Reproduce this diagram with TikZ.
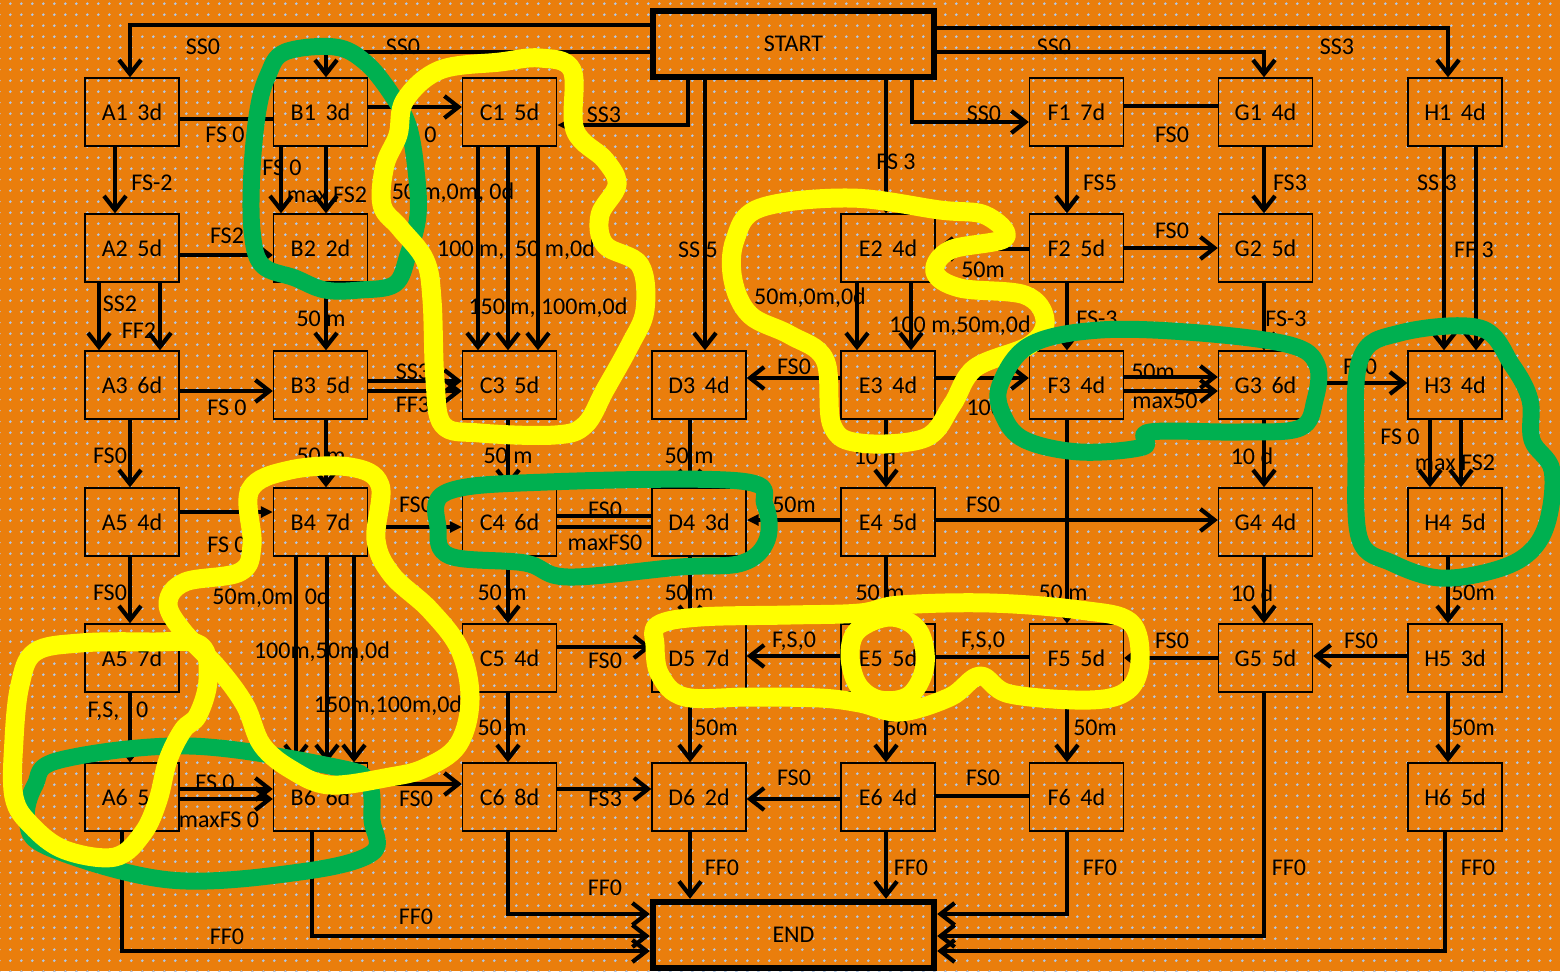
\documentclass[tikz,border=0pt]{standalone}
\usepackage{fontspec}
\setmainfont{Carlito}
\usetikzlibrary{arrows.meta,patterns.meta}
\definecolor{bgorange}{RGB}{234,126,12}
\definecolor{dotblue}{RGB}{176,200,232}
\definecolor{hlyellow}{RGB}{255,255,0}
\definecolor{hlgreen}{RGB}{0,176,80}
\begin{document}
\begin{tikzpicture}[x=0.5pt,y=-0.5pt,font=\fontsize{12}{14}\selectfont,
  box/.style={draw=black,line width=0.7pt,minimum width=47pt,minimum height=34pt,inner sep=0pt},
  bigbox/.style={draw=black,line width=3.2pt,minimum width=140.5pt,minimum height=33pt,inner sep=0pt},
  ln/.style={line width=1.6pt,draw=black},
  arr/.style={ln,-{Straight Barb[length=7pt,width=11pt,line width=2.1pt]}},
  tri/.style={ln,-{Triangle[length=6pt,width=5.5pt]}},
  lab/.style={inner sep=0pt},
  hly/.style={draw=hlyellow,line width=9.5pt,line cap=round,line join=round},
  hlg/.style={draw=hlgreen,line width=8.5pt,line cap=round,line join=round}]
\useasboundingbox (0,0) rectangle (1560,971);
\fill[bgorange] (0,0) rectangle (1560,971);
\fill[pattern={Dots[distance=5.4pt,radius=0.75pt]},pattern color=dotblue] (0,0) rectangle (1560,971);

% START / END
\node[bigbox] (START) at (793.5,44) {START};
\node[bigbox] (END) at (793.5,935) {END};

% boxes
\node[box] (A1) at (132,112) {A1\hspace{0.4em}3d};
\node[box] (A2) at (132,248) {A2\hspace{0.4em}5d};
\node[box] (A3) at (132,385) {A3\hspace{0.4em}6d};
\node[box] (A4) at (132,522) {A5\hspace{0.4em}4d};
\node[box] (A5) at (132,658) {A5\hspace{0.4em}7d};
\node[box] (A6) at (132,797) {A6\hspace{0.4em}5d};
\node[box] (B1) at (320.5,112) {B1\hspace{0.4em}3d};
\node[box] (B2) at (320.5,248) {B2\hspace{0.4em}2d};
\node[box] (B3) at (320.5,385) {B3\hspace{0.4em}5d};
\node[box] (B4) at (320.5,522) {B4\hspace{0.4em}7d};
\node[box] (B6) at (320.5,797) {B6\hspace{0.4em}6d};
\node[box] (C1) at (509.5,112) {C1\hspace{0.4em}5d};
\node[box] (C3) at (509.5,385) {C3\hspace{0.4em}5d};
\node[box] (C4) at (509.5,522) {C4\hspace{0.4em}6d};
\node[box] (C5) at (509.5,658) {C5\hspace{0.4em}4d};
\node[box] (C6) at (509.5,797) {C6\hspace{0.4em}8d};
\node[box] (D3) at (699,385) {D3\hspace{0.4em}4d};
\node[box] (D4) at (699,522) {D4\hspace{0.4em}3d};
\node[box] (D5) at (699,658) {D5\hspace{0.4em}7d};
\node[box] (D6) at (699,797) {D6\hspace{0.4em}2d};
\node[box] (E2) at (888,248) {E2\hspace{0.4em}4d};
\node[box] (E3) at (888,385) {E3\hspace{0.4em}4d};
\node[box] (E4) at (888,522) {E4\hspace{0.4em}5d};
\node[box] (E5) at (888,658) {E5\hspace{0.4em}5d};
\node[box] (E6) at (888,797) {E6\hspace{0.4em}4d};
\node[box] (F1) at (1076.5,112) {F1\hspace{0.4em}7d};
\node[box] (F2) at (1076.5,248) {F2\hspace{0.4em}5d};
\node[box] (F3) at (1076.5,385) {F3\hspace{0.4em}4d};
\node[box] (F5) at (1076.5,658) {F5\hspace{0.4em}5d};
\node[box] (F6) at (1076.5,797) {F6\hspace{0.4em}4d};
\node[box] (G1) at (1265.5,112) {G1\hspace{0.4em}4d};
\node[box] (G2) at (1265.5,248) {G2\hspace{0.4em}5d};
\node[box] (G3) at (1265.5,385) {G3\hspace{0.4em}6d};
\node[box] (G4) at (1265.5,522) {G4\hspace{0.4em}4d};
\node[box] (G5) at (1265.5,658) {G5\hspace{0.4em}5d};
\node[box] (H1) at (1455,112) {H1\hspace{0.4em}4d};
\node[box] (H3) at (1455,385) {H3\hspace{0.4em}4d};
\node[box] (H4) at (1455,522) {H4\hspace{0.4em}5d};
\node[box] (H5) at (1455,658) {H5\hspace{0.4em}3d};
\node[box] (H6) at (1455,797) {H6\hspace{0.4em}5d};

% from START
\draw[arr] (START.west |- 0,25) -| (A1.north -| 130,0);
\draw[arr] (START.west |- 0,52) -| (B1.north -| 326,0);
\draw[tri] (START.south -| 688,0) |- (C1.east |- 0,125);
\draw[arr] (START.south -| 705,0) -- (D3.north -| 705,0);
\draw[arr] (START.south -| 886,0) -- (E2.north -| 886,0);
\draw[arr] (START.south -| 912,0) |- (F1.west |- 0,122);
\draw[arr] (START.east |- 0,28) -| (H1.north -| 1448,0);
\draw[arr] (START.east |- 0,52) -| (G1.north -| 1264,0);
\node[lab] (t1) at (203,47) {SS0};
\node[lab] (t2) at (403,47) {SS0};
\node[lab] (t3) at (604,115) {SS3};
\node[lab] (t4) at (698,250) {SS 5};
\node[lab] (t5) at (896,162) {FS 3};
\node[lab] (t6) at (984,114) {SS0};
\node[lab] (t7) at (1337,47) {SS3};
\node[lab] (t8) at (1054,47) {SS0};

% row 1
\draw[ln] (A1.east |- 0,119) -- (B1.west |- 0,119);
\draw[arr] (B1.east |- 0,107) -- (C1.west |- 0,107);
\draw[ln] (F1.east |- 0,106) -- (G1.west |- 0,106);
\node[lab] (t9) at (225,135) {FS 0};
\node[lab] (t10) at (417,135) {FS 0};
\node[lab] (t11) at (1172,135) {FS0};

% row 1 -> row 2/3
\draw[arr] (A1.south -| 115,0) -- (A2.north -| 115,0);
\draw[arr] (B1.south -| 281,0) -- (B2.north -| 281,0);
\draw[arr] (B1.south -| 326,0) -- (B2.north -| 326,0);
\draw[arr] (C1.south -| 478,0) -- (C3.north -| 478,0);
\draw[arr] (C1.south -| 508,0) -- (C3.north -| 508,0);
\draw[arr] (C1.south -| 538,0) -- (C3.north -| 538,0);
\draw[arr] (F1.south -| 1067,0) -- (F2.north -| 1067,0);
\draw[arr] (G1.south -| 1264,0) -- (G2.north -| 1264,0);
\draw[arr] (H1.south -| 1444,0) -- (H3.north -| 1444,0);
\draw[arr] (H1.south -| 1476,0) -- (H3.north -| 1476,0);
\node[lab] (t12) at (152,183) {FS-2};
\node[lab] (t13) at (282,168) {FS 0};
\node[lab] (t14) at (327,195) {max FS2};
\node[lab] (t15) at (453,193) {50 m,0m, 0d};
\node[lab] (t16) at (516,250) {100 m,\ \ 50 m,0d};
\node[lab] (t17) at (548,308) {150 m, 100m,0d};
\node[lab] (t18) at (1100,183) {FS5};
\node[lab] (t19) at (1290,183) {FS3};
\node[lab] (t20) at (1437,183) {SS 3};
\node[lab] (t21) at (1474,250) {FF 3};

% row 2
\draw[arr] (A2.east |- 0,255) -- (B2.west |- 0,255);
\draw[arr] (F2.west |- 0,249) -- (E2.east |- 0,249);
\draw[arr] (F2.east |- 0,248) -- (G2.west |- 0,248);
\node[lab] (t22) at (227,236) {FS2};
\node[lab] (t23) at (983,270) {50m};
\node[lab] (t24) at (1172,231) {FS0};

% row 2 -> row 3
\draw[arr] (A2.south -| 99,0) -- (A3.north -| 99,0);
\draw[arr] (A2.south -| 160,0) -- (A3.north -| 160,0);
\draw[arr] (B2.south -| 326,0) -- (B3.north -| 326,0);
\draw[arr] (E2.south -| 857,0) -- (E3.north -| 857,0);
\draw[arr] (E2.south -| 911,0) -- (E3.north -| 911,0);
\draw[arr] (F2.south -| 1067,0) -- (F3.north -| 1067,0);
\draw[arr] (G2.south -| 1264,0) -- (G3.north -| 1264,0);
\node[lab] (t25) at (120,304) {SS2};
\node[lab] (t26) at (139,331) {FF2};
\node[lab] (t27) at (321,319) {50 m};
\node[lab] (t28) at (810,298) {50m,0m,0d};
\node[lab] (t29) at (960,326) {100 m,50m,0d};
\node[lab] (t30) at (1097,319) {FS-3};
\node[lab] (t31) at (1286,319) {FS-3};

% row 3
\draw[arr] (A3.east |- 0,391) -- (B3.west |- 0,391);
\draw[arr] (B3.east |- 0,381) -- (C3.west |- 0,381);
\draw[arr] (B3.east |- 0,391) -- (C3.west |- 0,391);
\draw[arr] (E3.west |- 0,378) -- (D3.east |- 0,378);
\draw[arr] (E3.east |- 0,378) -- (F3.west |- 0,378);
\draw[arr] (F3.east |- 0,377) -- (G3.west |- 0,377);
\draw[arr] (F3.east |- 0,391) -- (G3.west |- 0,391);
\draw[arr] (G3.east |- 0,383) -- (H3.west |- 0,383);
\draw[arr] (H3.south -| 1430,0) -- (H4.north -| 1430,0);
\draw[arr] (H3.south -| 1461,0) -- (H4.north -| 1461,0);
\node[lab] (t32) at (227,408) {FS 0};
\node[lab] (t33) at (413,372) {SS3};
\node[lab] (t34) at (413,405) {FF3};
\node[lab] (t35) at (794,367) {FS0};
\node[lab] (t36) at (985,407) {10d};
\node[lab] (t37) at (1153,372) {50m};
\node[lab] (t38) at (1165,401) {max50};
\node[lab] (t39) at (1360,367) {FS0};
\node[lab] (t40) at (1400,437) {FS 0};
\node[lab] (t41) at (1455,463) {max FS2};

% row 3 -> row 4
\draw[arr] (A3.south -| 130,0) -- (A4.north -| 130,0);
\draw[arr] (B3.south -| 326,0) -- (B4.north -| 326,0);
\draw[arr] (C3.south -| 508,0) -- (C4.north -| 508,0);
\draw[arr] (D3.south -| 690,0) -- (D4.north -| 690,0);
\draw[arr] (E3.south -| 886,0) -- (E4.north -| 886,0);
\draw[arr] (F3.south -| 1067,0) -- (F5.north -| 1067,0);
\draw[arr] (G3.south -| 1264,0) -- (G4.north -| 1264,0);
\node[lab] (t42) at (110,456) {FS0};
\node[lab] (t43) at (321,456) {50 m};
\node[lab] (t44) at (508,456) {50 m};
\node[lab] (t45) at (689,456) {50 m};
\node[lab] (t46) at (875,456) {10 d};
\node[lab] (t47) at (1063,593) {50 m};
\node[lab] (t48) at (1252,456) {10 d};

% row 4
\draw[tri] (A4.east |- 0,512) -- (B4.west |- 0,512);
\draw[tri] (B4.east |- 0,527) -- (C4.west |- 0,527);
\draw[ln] (C4.east |- 0,516) -- (D4.west |- 0,516);
\draw[ln] (C4.east |- 0,527) -- (D4.west |- 0,527);
\draw[tri] (E4.west |- 0,520) -- (D4.east |- 0,520);
\draw[arr] (E4.east |- 0,520) -- (G4.west |- 0,520);
\node[lab] (t49) at (227,545) {FS 0};
\node[lab] (t50) at (416,505) {FS0};
\node[lab] (t51) at (605,510) {FS0};
\node[lab] (t52) at (605,543) {maxFS0};
\node[lab] (t53) at (794,505) {50m};
\node[lab] (t54) at (983,505) {FS0};

% row 4 -> row 5/6
\draw[arr] (A4.south -| 130,0) -- (A5.north -| 130,0);
\draw[arr] (B4.south -| 296,0) -- (B6.north -| 296,0);
\draw[arr] (B4.south -| 327,0) -- (B6.north -| 327,0);
\draw[arr] (B4.south -| 354,0) -- (B6.north -| 354,0);
\draw[arr] (C4.south -| 508,0) -- (C5.north -| 508,0);
\draw[arr] (D4.south -| 690,0) -- (D5.north -| 690,0);
\draw[arr] (E4.south -| 886,0) -- (E5.north -| 886,0);
\draw[arr] (G4.south -| 1264,0) -- (G5.north -| 1264,0);
\draw[arr] (H4.south -| 1448,0) -- (H5.north -| 1448,0);
\node[lab] (t55) at (110,593) {FS0};
\node[lab] (t56) at (271,598) {50m,0m, 0d};
\node[lab] (t57) at (322,652) {100m,50m,0d};
\node[lab] (t58) at (388,706) {150m,100m,0d};
\node[lab] (t59) at (502,593) {50 m};
\node[lab] (t60) at (689,593) {50 m};
\node[lab] (t61) at (880,593) {50 m};
\node[lab] (t62) at (1252,593) {10 d};
\node[lab] (t63) at (1473,593) {50m};

% row 5
\draw[arr] (A5.south -| 130,0) -- (A6.north -| 130,0);
\draw[arr] (C5.east |- 0,647) -- (D5.west |- 0,647);
\draw[arr] (E5.west |- 0,656) -- (D5.east |- 0,656);
\draw[ln] (F5.west |- 0,657) -- (E5.east |- 0,657);
\draw[arr] (G5.west |- 0,658) -- (F5.east |- 0,658);
\draw[arr] (H5.west |- 0,656) -- (G5.east |- 0,656);
\node[lab] (t64) at (118,711) {F,S,\hspace{0.7em}0};
\node[lab] (t65) at (605,661) {FS0};
\node[lab] (t66) at (794,641) {F,S,0};
\node[lab] (t67) at (983,641) {F,S,0};
\node[lab] (t68) at (1172,641) {FS0};
\node[lab] (t69) at (1361,641) {FS0};

% row 5 -> row 6
\draw[arr] (C5.south -| 508,0) -- (C6.north -| 508,0);
\draw[arr] (D5.south -| 690,0) -- (D6.north -| 690,0);
\draw[arr] (E5.south -| 886,0) -- (E6.north -| 886,0);
\draw[arr] (F5.south -| 1067,0) -- (F6.north -| 1067,0);
\draw[arr] (H5.south -| 1448,0) -- (H6.north -| 1448,0);
\node[lab] (t70) at (502,728) {50 m};
\node[lab] (t71) at (716,728) {50m};
\node[lab] (t72) at (906,728) {50m};
\node[lab] (t73) at (1095,728) {50m};
\node[lab] (t74) at (1473,728) {50m};

% row 6
\draw[arr] (A6.east |- 0,789) -- (B6.west |- 0,789);
\draw[arr] (A6.east |- 0,799) -- (B6.west |- 0,799);
\draw[arr] (B6.east |- 0,784) -- (C6.west |- 0,784);
\draw[arr] (C6.east |- 0,789) -- (D6.west |- 0,789);
\draw[arr] (E6.west |- 0,799) -- (D6.east |- 0,799);
\draw[ln] (F6.west |- 0,796) -- (E6.east |- 0,796);
\node[lab] (t75) at (215,783) {FS 0};
\node[lab] (t76) at (219,820) {maxFS 0};
\node[lab] (t77) at (416,799) {FS0};
\node[lab] (t78) at (605,799) {FS3};
\node[lab] (t79) at (794,778) {FS0};
\node[lab] (t80) at (983,778) {FS0};

% to END
\draw[arr] (D6.south -| 690,0) -- (END.north -| 690,0);
\draw[arr] (E6.south -| 886,0) -- (END.north -| 886,0);
\draw[arr] (C6.south -| 508,0) |- (END.west |- 0,914);
\draw[arr] (B6.south -| 312,0) |- (END.west |- 0,936);
\draw[arr] (A6.south -| 122,0) |- (END.west |- 0,951);
\draw[arr] (F6.south -| 1067,0) |- (END.east |- 0,914);
\draw[arr] (G5.south -| 1264,0) |- (END.east |- 0,936);
\draw[arr] (H6.south -| 1445,0) |- (END.east |- 0,951);
\node[lab] (t81) at (722,868) {FF0};
\node[lab] (t82) at (911,868) {FF0};
\node[lab] (t83) at (605,888) {FF0};
\node[lab] (t84) at (416,917) {FF0};
\node[lab] (t85) at (227,937) {FF0};
\node[lab] (t86) at (1100,868) {FF0};
\node[lab] (t87) at (1289,868) {FF0};
\node[lab] (t88) at (1478,868) {FF0};

% hand-drawn highlights
\draw[hlg] plot[smooth cycle,tension=0.6] coordinates {(285,52) (335,47) (365,62) (390,92) (408,125) (416,170) (418,215) (408,255) (395,284) (360,290) (325,290) (295,278) (262,265) (252,230) (252,170) (258,110) (268,75)};
\draw[hly] plot[smooth cycle,tension=0.6] coordinates {(405,100) (440,70) (500,62) (540,58) (572,70) (575,130) (605,160) (617,185) (600,215) (605,245) (640,265) (645,310) (630,345) (605,390) (585,425) (555,435) (480,433) (443,425) (435,380) (432,300) (425,260) (400,228) (382,205) (385,165) (398,135)};
\draw[hly] plot[smooth cycle,tension=0.6] coordinates {(760,208) (850,198) (940,210) (985,215) (1005,238) (950,250) (935,272) (960,288) (1025,295) (1045,320) (1030,345) (975,368) (952,405) (925,438) (860,443) (832,425) (825,360) (790,335) (750,315) (733,280) (735,240)};
\draw[hlg] plot[smooth cycle,tension=0.6] coordinates {(1000,385) (1030,345) (1100,330) (1200,333) (1290,345) (1317,365) (1315,400) (1300,428) (1240,432) (1150,432) (1143,447) (1080,452) (1025,440) (1003,415)};
\draw[hlg] plot[smooth cycle,tension=0.6] coordinates {(1360,360) (1400,333) (1480,328) (1512,365) (1530,400) (1532,440) (1552,470) (1548,520) (1530,552) (1495,570) (1440,578) (1392,563) (1360,540) (1356,460)};
\draw[hlg] plot[smooth cycle,tension=0.6] coordinates {(447,492) (547,482) (740,481) (765,505) (767,540) (742,563) (680,567) (568,577) (525,563) (450,556) (438,528)};
\draw[hlg] plot[smooth cycle,tension=0.6] coordinates {(60,760) (190,746) (335,767) (368,782) (372,820) (372,853) (300,872) (170,880) (50,848) (27,820) (35,785)};
\draw[hly] plot[smooth cycle,tension=0.6] coordinates {(250,490) (290,470) (350,467) (380,485) (376,540) (392,575) (430,610) (460,650) (470,700) (458,745) (425,768) (390,777) (330,785) (292,770) (262,745) (245,705) (218,668) (182,630) (168,603) (185,582) (240,572) (252,545)};
\draw[hly] plot[smooth cycle,tension=0.6] coordinates {(35,652) (80,643) (150,642) (200,645) (208,680) (198,715) (183,730) (168,760) (158,800) (143,833) (115,857) (65,850) (32,826) (14,797) (14,740) (20,685)};
\draw[hly] plot[smooth cycle,tension=0.6] coordinates {(658,625) (700,617) (790,615) (860,613) (900,605) (990,603) (1080,610) (1130,622) (1140,660) (1128,690) (1090,700) (1010,694) (980,676) (950,697) (900,712) (860,703) (820,698) (750,697) (685,697) (660,675) (655,645)};
\draw[hly] plot[smooth cycle,tension=0.6] coordinates {(858,630) (890,617) (918,630) (925,665) (910,695) (880,700) (858,685) (850,655)};
\end{tikzpicture}
\end{document}
